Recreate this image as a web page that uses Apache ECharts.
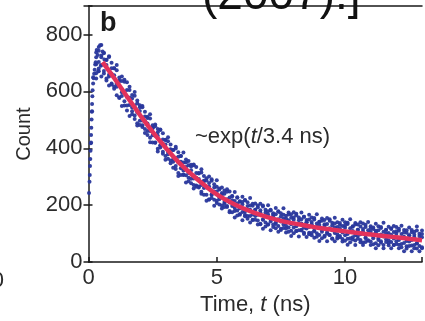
<!DOCTYPE html>
<html>
<head>
<meta charset="utf-8">
<script src="https://cdn.jsdelivr.net/npm/echarts@6/dist/echarts.min.js"></script>
<style>
html,body{margin:0;padding:0;background:#fff;}
#c{width:425px;height:321px;}
</style>
</head>
<body>
<div id="c"></div>
<script>
// Time bins (ns) of the decay histogram
const timeNs = [0.3,0.4,0.5,0.6,0.7,0.8,0.9,1.0,1.1,1.2,1.3,1.4,1.5,1.6,1.7,1.8,1.9,2.0,2.1,2.2,2.3,2.4,2.5,2.6,2.7,2.8,2.9,3.0,3.1,3.2,3.3,3.4,3.5,3.6,3.7,3.8,3.9,4.0,4.1,4.2,4.3,4.4,4.5,4.6,4.7,4.8,4.9,5.0,5.1,5.2,5.3,5.4,5.5,5.6,5.7,5.8,5.9,6.0,6.1,6.2,6.3,6.4,6.5,6.6,6.7,6.8,6.9,7.0,7.1,7.2,7.3,7.4,7.5,7.6,7.7,7.8,7.9,8.0,8.1,8.2,8.3,8.4,8.5,8.6,8.7,8.8,8.9,9.0,9.1,9.2,9.3,9.4,9.5,9.6,9.7,9.8,9.9,10.0,10.1,10.2,10.3,10.4,10.5,10.6,10.7,10.8,10.9,11.0,11.1,11.2,11.3,11.4,11.5,11.6,11.7,11.8,11.9,12.0,12.1,12.2,12.3,12.4,12.5,12.6,12.7,12.8,12.9,13.0];
const countsOuterHigh = [737,743,763,735,711,723,701,681,693,649,652,634,632,616,587,598,568,544,549,528,511,520,481,484,468,466,453,429,439,413,394,405,386,373,385,350,355,342,343,334,313,326,303,287,301,286,274,288,255,262,252,256,248,232,246,228,214,230,218,210,225,198,206,199,205,199,184,200,184,172,190,179,172,189,163,174,168,175,170,157,174,159,148,166,157,150,168,142,153,148,155,151,138,156,140,130,149,140,134,151,126,137,132,140,136,123,141,126,116,135,126,120,138,113,124,119,127,123,110,128,113,103,122,113,107,125,100,111];
const countsUpper = [720,756,726,735,710,721,681,681,674,637,636,641,605,605,575,585,558,551,544,512,506,505,472,477,456,464,431,430,425,395,394,399,370,373,350,361,340,336,340,313,311,315,286,295,278,291,262,265,259,238,240,247,227,231,215,226,212,211,217,197,199,205,184,193,182,195,174,179,181,162,168,177,160,166,153,167,156,157,165,147,151,159,140,150,141,155,136,142,145,128,134,145,129,136,123,137,127,129,138,119,124,132,114,125,116,131,112,119,122,105,112,123,107,114,102,116,106,108,117,99,104,112,94,105,96,111,92,99];
const countsMiddle = [695,703,720,695,693,658,662,657,628,636,597,599,580,578,543,550,526,531,498,495,487,461,470,444,444,411,416,413,387,397,361,366,350,353,322,334,313,323,294,296,292,271,284,262,266,238,247,248,227,243,211,221,210,217,190,206,189,203,178,184,184,167,184,166,174,149,162,167,149,167,139,151,143,152,128,147,133,149,126,134,136,121,140,123,133,109,124,130,113,133,105,119,112,122,98,117,104,121,99,106,109,94,114,98,108,85,100,107,90,110,83,97,90,100,77,96,83,100,78,86,89,74,94,78,88,65,80,87];
const countsLower = [664,671,693,663,638,652,628,609,616,577,584,565,533,552,520,515,488,497,475,468,461,437,446,419,398,409,388,373,379,347,353,338,313,330,306,305,284,293,271,269,266,247,260,237,220,236,219,208,221,199,206,197,180,197,180,181,166,176,161,162,162,149,162,146,135,150,139,132,143,123,134,127,113,132,118,122,110,122,109,112,114,103,118,103,94,110,101,95,107,89,100,95,82,102,88,92,81,94,82,84,87,76,92,78,69,86,77,72,84,66,78,73,60,80,67,71,60,73,61,64,67,56,72,58,49,66,57,52];
const countsOuterLow = [645,680,652,672,645,621,624,617,586,579,549,550,550,513,530,503,480,482,481,454,447,421,420,420,389,403,381,360,363,357,332,327,303,306,308,280,296,277,259,265,262,240,237,216,220,225,198,216,202,188,194,194,175,175,157,164,169,147,166,152,139,148,149,132,133,117,125,132,112,132,119,107,117,120,104,107,92,101,109,90,111,99,88,98,102,86,89,74,84,93,73,95,83,73,83,87,72,75,61,70,79,60,82,70,60,71,75,60,63,49,59,68,49,71,59,49,60,64,49,52,38,48,57,38,60,48,38,49];
// Rising edge and peak points
const riseTimeNs = [0.02,0.04,0.05,0.06,0.07,0.08,0.09,0.10,0.11,0.12,0.13,0.14,0.15,0.16,0.18,0.20,0.22,0.24,0.26,0.28,0.10,0.14,0.18,0.32,0.36,0.45,0.55,0.62,0.38,0.48];
const riseCounts = [243,282,306,338,362,391,418,447,472,501,528,556,583,604,628,646,662,676,694,702,420,530,650,745,728,762,740,712,672,690];
// Fitted exponential curve (red)
const fitTimeNs = [0.55,1.0,1.5,2.0,2.5,3.0,3.5,4.0,4.5,5.0,5.5,6.0,6.5,7.0,7.5,8.0,8.5,9.0,9.5,10.0,10.5,11.0,11.5,12.0,12.5,13.0];
const fitCounts = [703,647,582,518,458,403,352,310,272,238,212,190,172,157,145,136,128,120,114,108,102,97,92,87,82,77];
const xTicks = [0,5,10];
const yTicks = [0,200,400,600,800];

const FONT = "'Liberation Sans', Arial, Helvetica, sans-serif";
const TXT = '#2b2b2b';

const scatterData = [];
[countsOuterHigh, countsUpper, countsMiddle, countsLower, countsOuterLow].forEach(arr => {
  timeNs.forEach((t, i) => scatterData.push([t, arr[i]]));
});
riseTimeNs.forEach((t, i) => scatterData.push([t, riseCounts[i]]));
const fitData = fitTimeNs.map((t, i) => [t, fitCounts[i]]);

const chart = echarts.init(document.getElementById('c'), null, {renderer: 'canvas'});
chart.setOption({
  animation: false,
  backgroundColor: '#fff',
  grid: {left: 88.5, right: 0, top: 6, bottom: 56, containLabel: false},
  xAxis: [{
    type: 'value', min: 0, max: 13, interval: 5, position: 'bottom',
    axisLine: {show: true, lineStyle: {color: '#1a1a1a', width: 1.5}},
    axisTick: {show: true, inside: true, length: 5, lineStyle: {color: '#1a1a1a', width: 1.5}},
    axisLabel: {fontSize: 22, color: TXT, fontFamily: FONT, margin: 5,
      formatter: v => xTicks.indexOf(v) >= 0 ? String(v) : ''},
    splitLine: {show: false},
    name: '{n|Time, }{i|t}{n| (ns)}', nameLocation: 'middle', nameGap: 31,
    nameTextStyle: {fontSize: 22, color: TXT, fontFamily: FONT,
      rich: {n: {fontSize: 22, color: TXT, fontFamily: FONT}, i: {fontSize: 22, color: TXT, fontFamily: FONT, fontStyle: 'italic'}}}
  }, {
    type: 'value', min: 0, max: 13, position: 'top',
    axisLine: {show: true, onZero: false, lineStyle: {color: '#1a1a1a', width: 1.5}},
    axisTick: {show: false}, axisLabel: {show: false}, splitLine: {show: false}
  }],
  yAxis: [{
    type: 'value', min: 0, max: 900, interval: 200, position: 'left',
    axisLine: {show: true, onZero: false, lineStyle: {color: '#1a1a1a', width: 1.5}},
    axisTick: {show: true, inside: false, length: 5, lineStyle: {color: '#1a1a1a', width: 1.5}},
    axisLabel: {fontSize: 22, color: TXT, fontFamily: FONT, margin: 6,
      formatter: v => yTicks.indexOf(v) >= 0 ? String(v) : ''},
    splitLine: {show: false},
    name: 'Count', nameLocation: 'middle', nameGap: 54, nameRotate: 90,
    nameTextStyle: {fontSize: 20, color: TXT, fontFamily: FONT}
  }, {
    type: 'value', min: 0, max: 900, interval: 200, position: 'left',
    axisLine: {show: false},
    axisTick: {show: true, inside: true, length: 4, lineStyle: {color: '#1a1a1a', width: 1.5}},
    axisLabel: {show: false}, splitLine: {show: false}
  }],
  series: [{
    type: 'scatter', xAxisIndex: 0, yAxisIndex: 0,
    data: scatterData, symbolSize: 4,
    itemStyle: {color: '#29379c', opacity: 0.95},
    z: 2
  }, {
    type: 'line', xAxisIndex: 0, yAxisIndex: 0,
    data: fitData, smooth: true, showSymbol: false,
    lineStyle: {color: '#e3325b', width: 4.5},
    z: 3
  }],
  graphic: [
    {type: 'text', x: 100, y: 24, z: 10,
      style: {text: 'b', font: "bold 27px " + FONT, fill: '#1a1a1a', textVerticalAlign: 'middle'}},
    {type: 'text', x: 195, y: 137, z: 10,
      style: {text: '~exp({i|t}/3.4 ns)', font: "22px " + FONT, fill: TXT, textVerticalAlign: 'middle',
        rich: {i: {fontStyle: 'italic', fontSize: 22, fontFamily: FONT, fill: TXT}}}},
    {type: 'text', x: 202, y: -4, z: 10,
      style: {text: '(2007).]', font: "46px " + FONT, fill: '#111', textVerticalAlign: 'middle'}},
    {type: 'text', x: 4, y: 281, z: 10,
      style: {text: '0', font: "22px " + FONT, fill: TXT, textAlign: 'right', textVerticalAlign: 'middle'}}
  ]
});
</script>
</body>
</html>
